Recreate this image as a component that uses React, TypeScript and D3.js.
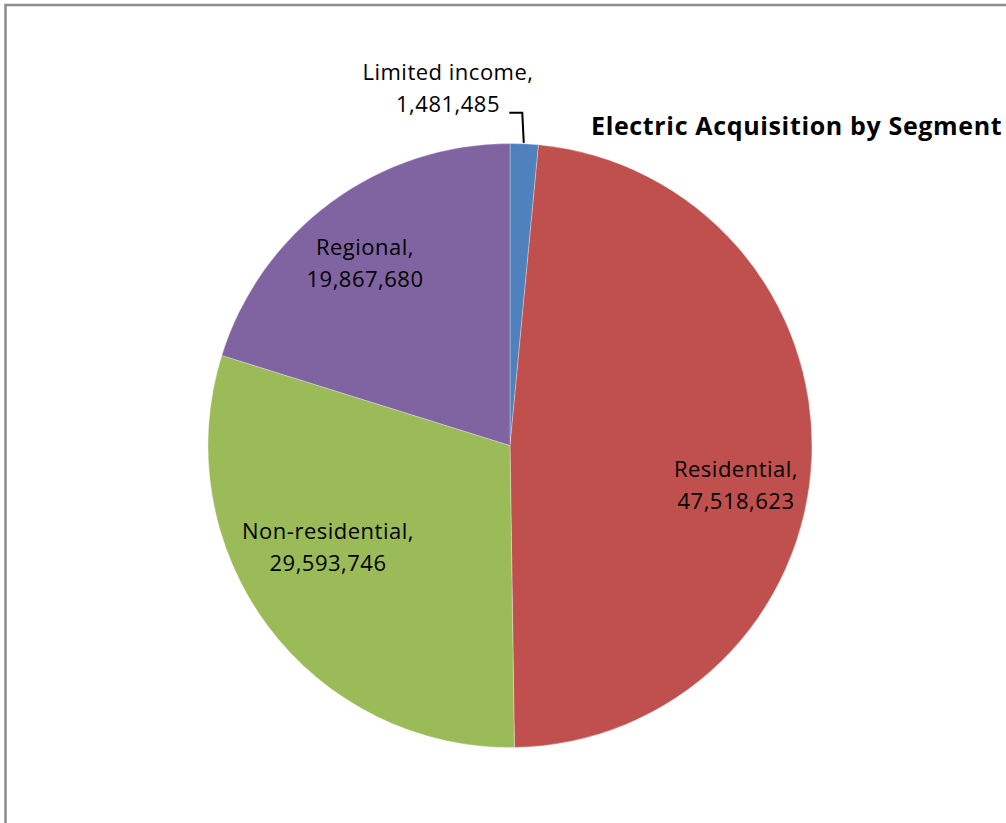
import React from "react";
import * as d3 from "d3";

const categories = ["Limited income", "Residential", "Non-residential", "Regional"];
const values = [1481485, 47518623, 29593746, 19867680];
const colors = ["#4F81BD", "#C0504D", "#9BBB59", "#8064A2"];
const title = "Electric Acquisition by Segment";

// label anchors (relative to pie centre): first-line baseline
const labelPos = [
  { x: -62, y: -365.5 },
  { x: 226, y: 31.5 },
  { x: -182, y: 93.5 },
  { x: -145, y: -190.5 },
];

const W = 1006;
const H = 823;
const cx = 510;
const cy = 445.5;
const R = 302;
const FONT = "'Open Sans', Lato, sans-serif";

export default function App() {
  const pie = d3.pie<number>().sort(null).value((d) => d);
  const arcs = pie(values);
  const arcGen = d3.arc<d3.PieArcDatum<number>>().innerRadius(0).outerRadius(R);
  const fmt = d3.format(",");

  const a0 = arcs[0];
  const mid = (a0.startAngle + a0.endAngle) / 2;
  const px = Math.sin(mid) * R;
  const py = -Math.cos(mid) * R;

  return (
    <svg width={W} height={H} style={{ position: "absolute", left: 0, top: 0 }}>
      <rect x={0} y={0} width={W} height={H} fill="#fff" />
      <rect x={5.5} y={5} width={W + 20} height={H + 20} fill="none" stroke="#8c8c8c" strokeWidth={2.5} />
      <g transform={`translate(${cx},${cy})`}>
        {arcs.map((a, i) => (
          <path key={i} d={arcGen(a) || ""} fill={colors[i]} stroke="#ffffff" strokeWidth={0.5} strokeOpacity={0.6} />
        ))}
        <polyline
          points={`${px - 0.5},${py - 1} ${px - 2},${py - 31} ${px - 15},${py - 31}`}
          fill="none"
          stroke="#000"
          strokeWidth={2}
        />
        {arcs.map((a, i) => {
          const p = labelPos[i];
          return (
            <text key={"t" + i} fontFamily={FONT} fontSize={22} letterSpacing={0.5} fill="#000" textAnchor="middle">
              <tspan x={p.x} y={p.y}>{categories[i] + ","}</tspan>
              <tspan x={p.x} y={p.y + 32}>{fmt(values[i])}</tspan>
            </text>
          );
        })}
      </g>
      <text x={591} y={135} fontFamily={FONT} fontWeight="bold" fontSize={25} letterSpacing={0.65} fill="#000">
        {title}
      </text>
    </svg>
  );
}
